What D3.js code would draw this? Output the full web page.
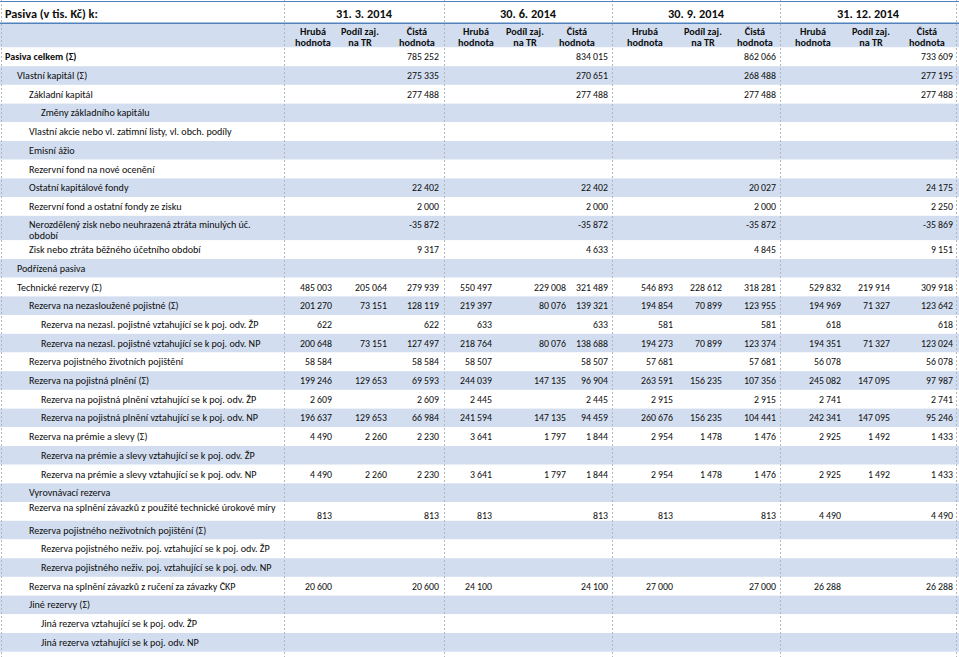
<!DOCTYPE html>
<html>
<head>
<meta charset="utf-8">
<script src="https://cdn.jsdelivr.net/npm/d3@7"></script>
<style>
  html, body { margin: 0; padding: 0; background: #fff; }
  svg { display: block; }
  text { font-family: Carlito, Calibri, Lato, "Open Sans", sans-serif; fill: #0d0d0d; }
</style>
</head>
<body>
<svg id="chart" width="959" height="657"></svg>
<script>
const _ = null;

const title = "Pasiva (v tis. Kč) k:";
const quarters = ["31. 3. 2014", "30. 6. 2014", "30. 9. 2014", "31. 12. 2014"];
const measures = [["Hrubá", "hodnota"], ["Podíl zaj.", "na TR"], ["Čistá", "hodnota"]];

const rowLabels = [
  "Pasiva celkem (Σ)",
  "Vlastní kapitál (Σ)",
  "Základní kapitál",
  "Změny základního kapitálu",
  "Vlastní akcie nebo vl. zatímní listy, vl. obch. podíly",
  "Emisní ážio",
  "Rezervní fond na nové ocenění",
  "Ostatní kapitálové fondy",
  "Rezervní fond a ostatní fondy ze zisku",
  "Nerozdělený zisk nebo neuhrazená ztráta minulých úč.|období",
  "Zisk nebo ztráta běžného účetního období",
  "Podřízená pasiva",
  "Technické rezervy (Σ)",
  "Rezerva na nezasloužené pojistné (Σ)",
  "Rezerva na nezasl. pojistné vztahující se k poj. odv. ŽP",
  "Rezerva na nezasl. pojistné vztahující se k poj. odv. NP",
  "Rezerva pojistného životních pojištění",
  "Rezerva na pojistná plnění (Σ)",
  "Rezerva na pojistná plnění vztahující se k poj. odv. ŽP",
  "Rezerva na pojistná plnění vztahující se k poj. odv. NP",
  "Rezerva na prémie a slevy (Σ)",
  "Rezerva na prémie a slevy vztahující se k poj. odv. ŽP",
  "Rezerva na prémie a slevy vztahující se k poj. odv. NP",
  "Vyrovnávací rezerva",
  "Rezerva na splnění závazků z použité technické úrokové míry",
  "Rezerva pojistného neživotních pojištění (Σ)",
  "Rezerva pojistného neživ. poj. vztahující se k poj. odv. ŽP",
  "Rezerva pojistného neživ. poj. vztahující se k poj. odv. NP",
  "Rezerva na splnění závazků z ručení za závazky ČKP",
  "Jiné rezervy (Σ)",
  "Jiná rezerva vztahující se k poj. odv. ŽP",
  "Jiná rezerva vztahující se k poj. odv. NP"
];
const rowLevels = [0,1,2,3,2,2,2,2,2,2,2,1,1,2,3,3,2,2,3,3,2,3,3,2,2,2,3,3,2,2,3,3];

// 31. 3. 2014
const grossQ1 = [_,_,_,_,_,_,_,_,_,_,_,_, 485003, 201270, 622, 200648, 58584, 199246, 2609, 196637, 4490, _, 4490, _, 813, _,_,_, 20600, _,_,_];
const shareQ1 = [_,_,_,_,_,_,_,_,_,_,_,_, 205064, 73151, _, 73151, _, 129653, _, 129653, 2260, _, 2260, _, _, _,_,_, _, _,_,_];
const netQ1   = [785252, 275335, 277488, _,_,_,_, 22402, 2000, -35872, 9317, _, 279939, 128119, 622, 127497, 58584, 69593, 2609, 66984, 2230, _, 2230, _, 813, _,_,_, 20600, _,_,_];
// 30. 6. 2014
const grossQ2 = [_,_,_,_,_,_,_,_,_,_,_,_, 550497, 219397, 633, 218764, 58507, 244039, 2445, 241594, 3641, _, 3641, _, 813, _,_,_, 24100, _,_,_];
const shareQ2 = [_,_,_,_,_,_,_,_,_,_,_,_, 229008, 80076, _, 80076, _, 147135, _, 147135, 1797, _, 1797, _, _, _,_,_, _, _,_,_];
const netQ2   = [834015, 270651, 277488, _,_,_,_, 22402, 2000, -35872, 4633, _, 321489, 139321, 633, 138688, 58507, 96904, 2445, 94459, 1844, _, 1844, _, 813, _,_,_, 24100, _,_,_];
// 30. 9. 2014
const grossQ3 = [_,_,_,_,_,_,_,_,_,_,_,_, 546893, 194854, 581, 194273, 57681, 263591, 2915, 260676, 2954, _, 2954, _, 813, _,_,_, 27000, _,_,_];
const shareQ3 = [_,_,_,_,_,_,_,_,_,_,_,_, 228612, 70899, _, 70899, _, 156235, _, 156235, 1478, _, 1478, _, _, _,_,_, _, _,_,_];
const netQ3   = [862066, 268488, 277488, _,_,_,_, 20027, 2000, -35872, 4845, _, 318281, 123955, 581, 123374, 57681, 107356, 2915, 104441, 1476, _, 1476, _, 813, _,_,_, 27000, _,_,_];
// 31. 12. 2014
const grossQ4 = [_,_,_,_,_,_,_,_,_,_,_,_, 529832, 194969, 618, 194351, 56078, 245082, 2741, 242341, 2925, _, 2925, _, 4490, _,_,_, 26288, _,_,_];
const shareQ4 = [_,_,_,_,_,_,_,_,_,_,_,_, 219914, 71327, _, 71327, _, 147095, _, 147095, 1492, _, 1492, _, _, _,_,_, _, _,_,_];
const netQ4   = [733609, 277195, 277488, _,_,_,_, 24175, 2250, -35869, 9151, _, 309918, 123642, 618, 123024, 56078, 97987, 2741, 95246, 1433, _, 1433, _, 4490, _,_,_, 26288, _,_,_];

// ---- table assembly ----
const series = [
  [grossQ1, shareQ1, netQ1],
  [grossQ2, shareQ2, netQ2],
  [grossQ3, shareQ3, netQ3],
  [grossQ4, shareQ4, netQ4]
];

const W = 959, H = 657;
const svg = d3.select("#chart");
const BLUE = "#d2def0";
const LINE = "#4f81bd";

const fmt = d3.formatLocale({decimal: ",", thousands: " ", grouping: [3], currency: ["", ""], minus: "-"}).format(",d");

// column scales
const colKeys = [];
quarters.forEach((q, qi) => measures.forEach((m, mi) => colKeys.push(qi + "-" + mi)));
const xRight  = d3.scaleOrdinal().domain(colKeys).range([332, 387, 439, 492, 566, 608, 673, 722, 776, 841, 890, 953]);
const xCenter = d3.scaleOrdinal().domain(colKeys).range([313, 360, 417, 476, 525, 577, 645, 703, 755, 813, 871, 927]);
const groupEdges = [284, 444, 612, 780, 956];
const xGroup = d3.scaleOrdinal().domain(d3.range(quarters.length)).range(d3.range(quarters.length).map(i => (groupEdges[i] + groupEdges[i + 1]) / 2));

// row scale (cumulative heights; the wrapped label row is taller)
const ROW = 18.7, headTop = 47.5;
const heights = rowLabels.map(l => l.includes("|") ? 24.5 : ROW);
const tops = [];
heights.reduce((acc, h) => { tops.push(acc); return acc + h; }, headTop);
const yTop = d3.scaleOrdinal().domain(d3.range(rowLabels.length)).range(tops);

// backgrounds
svg.append("rect").attr("x", 0).attr("y", 24).attr("width", W).attr("height", headTop - 24).attr("fill", BLUE);
svg.selectAll("rect.row").data(rowLabels).join("rect")
  .attr("class", "row")
  .attr("x", 0).attr("y", (d, i) => yTop(i))
  .attr("width", W).attr("height", (d, i) => heights[i])
  .attr("fill", (d, i) => i % 2 === 1 ? BLUE : "#ffffff");

// vertical dotted separators
svg.selectAll("line.sep").data([1, ...groupEdges]).join("line")
  .attr("class", "sep")
  .attr("x1", d => d + 0.5).attr("x2", d => d + 0.5)
  .attr("y1", 0).attr("y2", H)
  .attr("stroke", "#b2b6bd").attr("stroke-width", 1).attr("stroke-dasharray", "2,2");

// header lines
svg.append("line").attr("x1", 0).attr("x2", W).attr("y1", 1.5).attr("y2", 1.5).attr("stroke", LINE).attr("stroke-width", 1.2);
svg.append("line").attr("x1", 0).attr("x2", W).attr("y1", 23.2).attr("y2", 23.2).attr("stroke", LINE).attr("stroke-width", 1.6);

// title and dates
svg.append("text").attr("x", 5).attr("y", 17.5).attr("font-size", 12.3).attr("font-weight", 700).text(title);
svg.selectAll("text.q").data(quarters).join("text")
  .attr("class", "q")
  .attr("x", (d, i) => xGroup(i)).attr("y", 17.5)
  .attr("text-anchor", "middle").attr("font-size", 12.3).attr("font-weight", 700)
  .text(d => d);

// sub headers
const subHead = svg.selectAll("g.sh").data(colKeys).join("g").attr("class", "sh");
subHead.each(function(k) {
  const mi = +k.split("-")[1];
  const t = d3.select(this).append("text")
    .attr("text-anchor", "middle").attr("font-size", 10.2).attr("font-weight", 700);
  measures[mi].forEach((line, li) => {
    t.append("tspan").attr("x", xCenter(k)).attr("y", 34.5 + li * 11.5).text(line);
  });
});

// row labels
const indent = d3.scaleOrdinal().domain([0, 1, 2, 3]).range([5, 17, 29, 41]);
const special = "Rezerva na splnění závazků z použité technické úrokové míry";
svg.selectAll("text.lbl").data(rowLabels).join("text")
  .attr("class", "lbl")
  .attr("font-size", 10.1)
  .attr("font-weight", (d, i) => rowLevels[i] === 0 ? 700 : 400)
  .each(function(d, i) {
    const t = d3.select(this);
    const parts = d.split("|");
    const y0 = parts.length > 1 ? yTop(i) + 11.8 : yTop(i) + ROW / 2 + 3.5 - (d === special ? 4 : 0);
    parts.forEach((p, pi) => {
      t.append("tspan").attr("x", indent(rowLevels[i])).attr("y", y0 + pi * 11.5).text(p);
    });
  });

// values
const cells = [];
series.forEach((qs, qi) => qs.forEach((arr, mi) => arr.forEach((v, ri) => {
  if (v !== null) cells.push({key: qi + "-" + mi, row: ri, value: v});
})));
svg.selectAll("text.val").data(cells).join("text")
  .attr("class", "val")
  .attr("x", d => xRight(d.key))
  .attr("y", d => {
    const lbl = rowLabels[d.row];
    if (lbl.includes("|")) return yTop(d.row) + 11.8;
    if (lbl === special) return yTop(d.row) + heights[d.row] - 1.5;
    return yTop(d.row) + ROW / 2 + 3.5;
  })
  .attr("text-anchor", "end")
  .attr("font-size", 9.8)
  .text(d => fmt(d.value));
</script>
</body>
</html>
